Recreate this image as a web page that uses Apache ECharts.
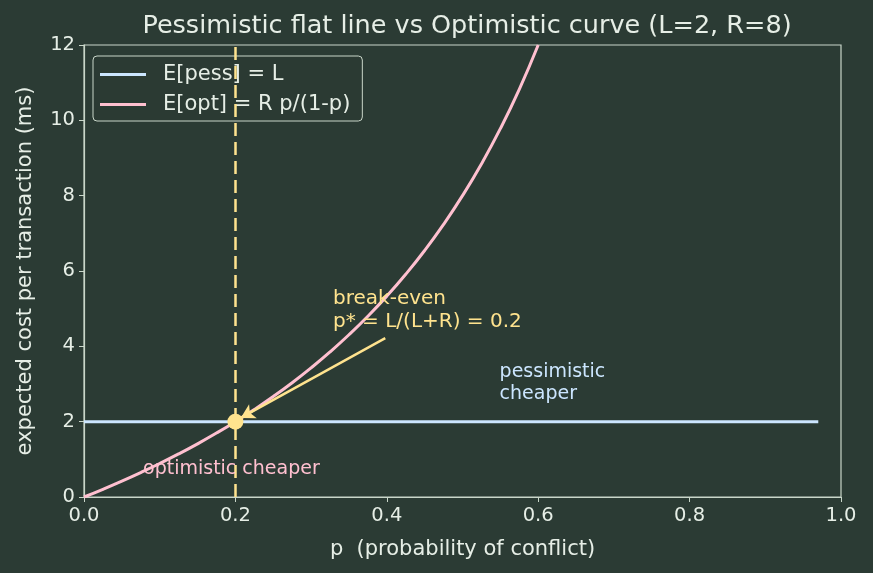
<!DOCTYPE html>
<html>
<head>
<meta charset="utf-8">
<script src="https://cdn.jsdelivr.net/npm/echarts@6/dist/echarts.min.js"></script>
<style>
html, body { margin: 0; padding: 0; background: #2b3b34; }
#main { width: 873px; height: 573px; }
</style>
</head>
<body>
<div id="main"></div>
<script>
// values
var pessLine = [[0, 2], [0.97, 2]];
var optP = [0, 0.025, 0.05, 0.075, 0.1, 0.125, 0.15, 0.175, 0.2, 0.225, 0.25, 0.275, 0.3,
            0.325, 0.35, 0.375, 0.4, 0.425, 0.45, 0.475, 0.5, 0.525, 0.55, 0.575, 0.6];
var optCost = [0, 0.205, 0.421, 0.649, 0.889, 1.143, 1.412, 1.697, 2.0, 2.323, 2.667, 3.034, 3.429,
               3.852, 4.308, 4.8, 5.333, 5.913, 6.545, 7.238, 8.0, 8.842, 9.778, 10.824, 12.0];
var breakEven = [0.2, 2];
var arrowFrom = [0.398, 4.22];
var arrowTo = [0.207, 2.1];

var fg = '#e6eee6';
var axisCol = '#c9d6c9';
var pessCol = '#cce6ff';
var optCol = '#ffc0d0';
var yel = '#ffe38e';
var font = 'DejaVu Sans';

var chart = echarts.init(document.getElementById('main'));
var option = {
    backgroundColor: '#2b3b34',
    textStyle: { fontFamily: font },
    title: {
        text: 'Pessimistic flat line vs Optimistic curve (L=2, R=8)',
        left: 462,
        textAlign: 'center',
        top: 8,
        textStyle: { color: fg, fontSize: 25.5, fontWeight: 'normal', fontFamily: font }
    },
    legend: {
        left: 93, top: 56,
        orient: 'vertical',
        padding: [8, 12, 6, 7],
        itemGap: 9,
        itemWidth: 46,
        itemHeight: 3,
        icon: 'rect',
        backgroundColor: 'rgba(43,59,52,0.85)',
        borderColor: axisCol,
        borderWidth: 1,
        borderRadius: 4,
        textStyle: { color: fg, fontSize: 21, fontFamily: font, padding: [0, 0, 0, 12] },
        data: ['E[pess] = L', 'E[opt] = R p/(1-p)']
    },
    grid: {
        left: 84, right: 32, top: 45, bottom: 76,
        show: true, borderColor: axisCol, borderWidth: 1.2
    },
    xAxis: {
        type: 'value', min: 0, max: 1, interval: 0.2,
        name: 'p  (probability of conflict)',
        nameLocation: 'middle', nameGap: 42,
        nameTextStyle: { color: fg, fontSize: 21, fontFamily: font },
        axisLine: { show: true, lineStyle: { color: axisCol, width: 1.2 } },
        axisTick: { show: true, length: 5, lineStyle: { color: axisCol } },
        axisLabel: { color: fg, fontSize: 19.5, margin: 9, formatter: function (v) { return v.toFixed(1); } },
        splitLine: { show: false }
    },
    yAxis: {
        type: 'value', min: 0, max: 12, interval: 2,
        name: 'expected cost per transaction (ms)',
        nameLocation: 'middle', nameGap: 48,
        nameTextStyle: { color: fg, fontSize: 21, fontFamily: font },
        axisLine: { show: true, lineStyle: { color: axisCol, width: 1.2 } },
        axisTick: { show: true, length: 5, lineStyle: { color: axisCol } },
        axisLabel: { color: fg, fontSize: 19.5, margin: 9 },
        splitLine: { show: false }
    },
    series: [
        {
            name: 'E[pess] = L',
            type: 'line',
            data: pessLine,
            symbol: 'none',
            itemStyle: { color: pessCol },
            lineStyle: { color: pessCol, width: 3 },
            z: 3,
            markLine: {
                silent: true,
                symbol: ['none', 'none'],
                label: { show: false },
                lineStyle: { color: yel, type: [13, 6], width: 2.5 },
                data: [{ xAxis: breakEven[0] }]
            }
        },
        {
            name: 'E[opt] = R p/(1-p)',
            type: 'line',
            data: optP.map(function (p, i) { return [p, optCost[i]]; }),
            symbol: 'none',
            smooth: true,
            clip: true,
            itemStyle: { color: optCol },
            lineStyle: { color: optCol, width: 3 },
            z: 4
        },
        {
            type: 'scatter',
            data: [breakEven],
            symbolSize: 16,
            itemStyle: { color: yel, opacity: 1 },
            z: 6,
            markLine: {
                silent: true,
                symbol: ['none', 'arrow'],
                symbolSize: [12, 14],
                label: { show: false },
                lineStyle: { color: yel, type: 'solid', width: 2.5 },
                data: [[{ coord: arrowFrom }, { coord: arrowTo }]]
            }
        },
        {
            type: 'scatter',
            symbolSize: 0,
            silent: true,
            z: 8,
            itemStyle: { opacity: 1 },
            data: [
                { value: [0.329, 4.35], label: { formatter: 'break-even\np* = L/(L+R) = 0.2', color: yel, fontSize: 20, lineHeight: 23 } },
                { value: [0.549, 2.44], label: { formatter: 'pessimistic\ncheaper', color: pessCol, fontSize: 19, lineHeight: 22 } },
                { value: [0.078, 0.48], label: { formatter: 'optimistic cheaper', color: optCol, fontSize: 19, lineHeight: 20 } }
            ],
            label: {
                show: true, position: [0, 0], align: 'left', verticalAlign: 'bottom', fontFamily: font
            }
        }
    ]
};
chart.setOption(option);
window.addEventListener('resize', function () { chart.resize(); });
</script>
</body>
</html>
